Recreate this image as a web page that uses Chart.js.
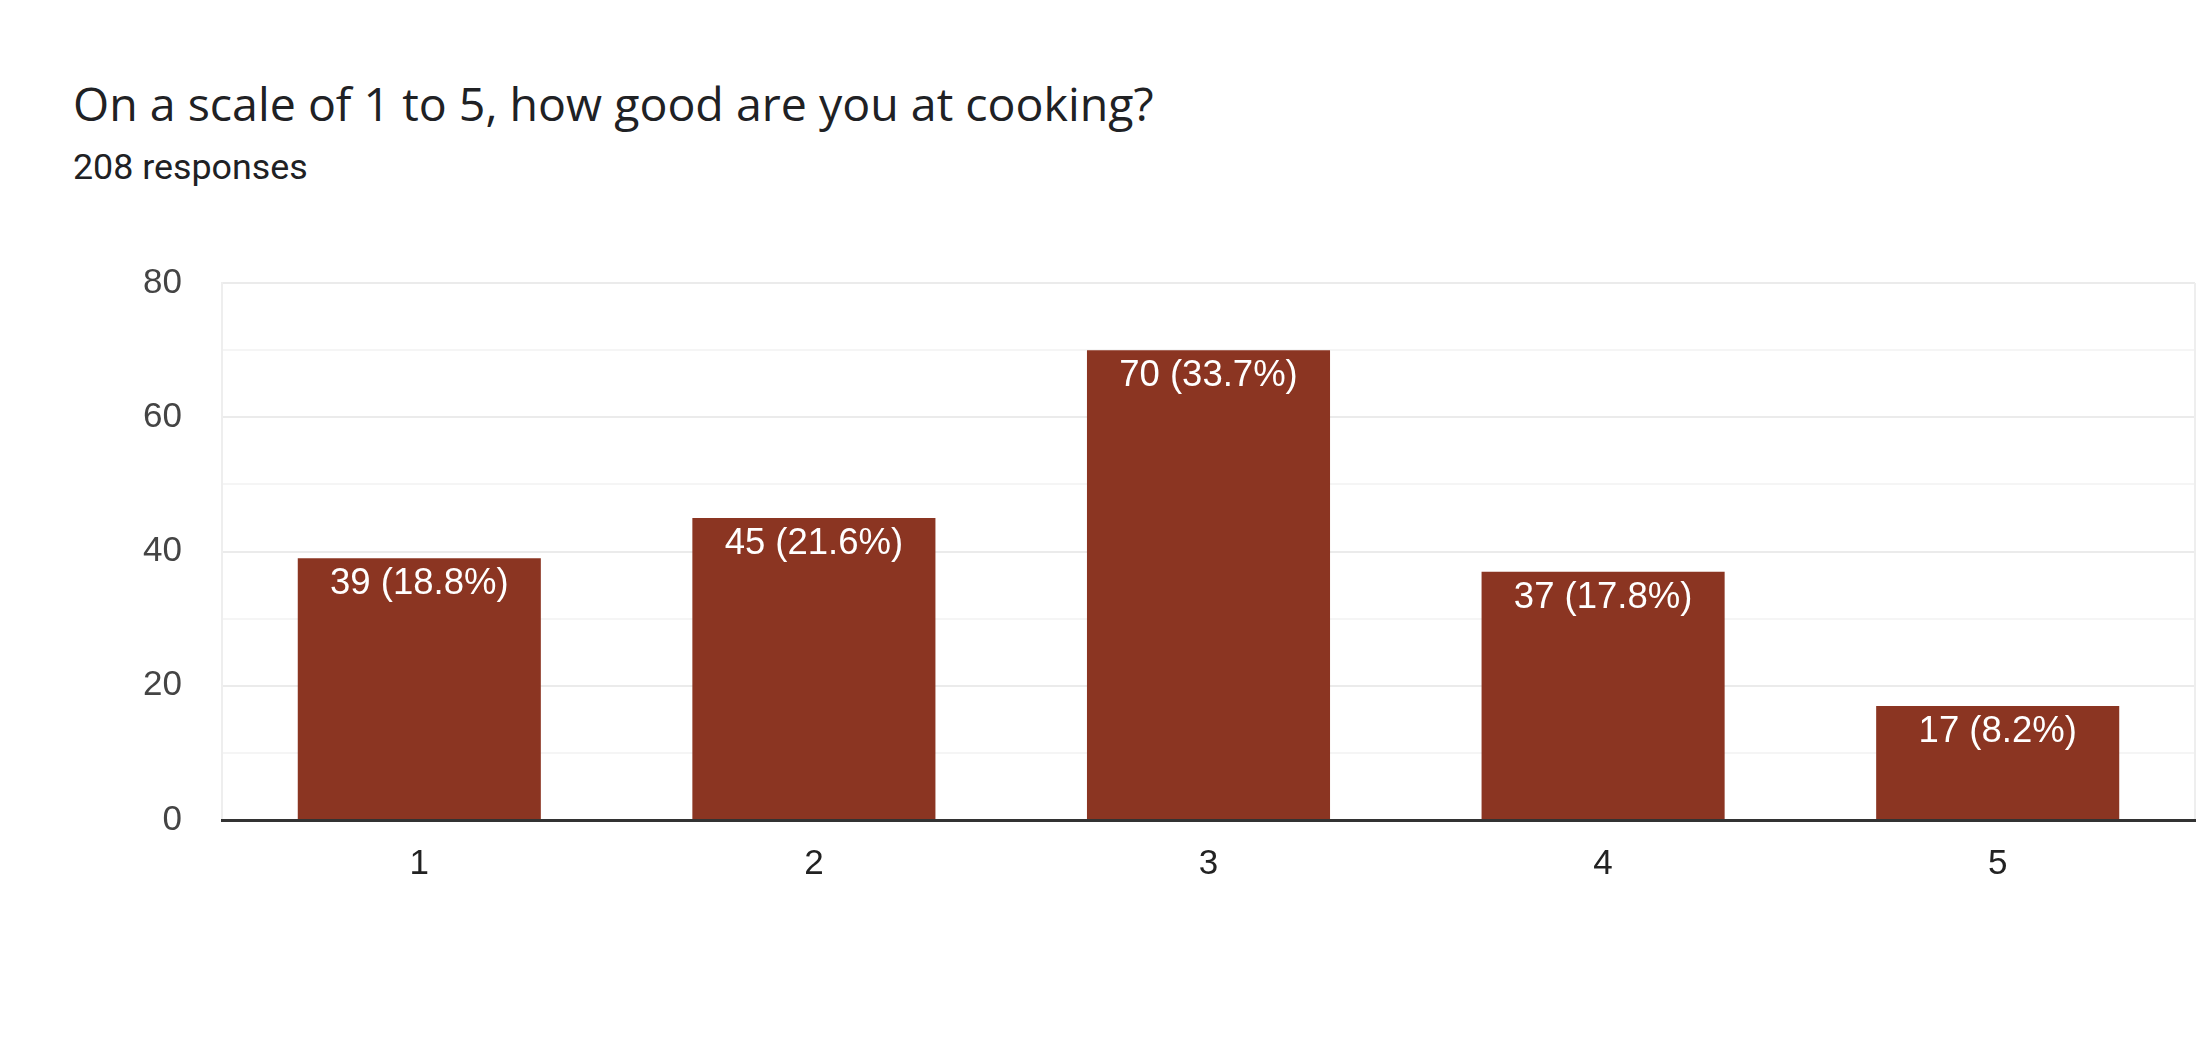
<!DOCTYPE html>
<html>
<head>
<meta charset="utf-8">
<script src="https://cdn.jsdelivr.net/npm/chart.js@4"></script>
<style>
  html, body { margin: 0; padding: 0; background: #fff; }
  body { width: 2196px; height: 1044px; position: relative; overflow: hidden; }
  #title { position: absolute; left: 73px; top: 80px; font-family: "Open Sans", sans-serif; font-size: 46.5px; line-height: 1; color: #202124; white-space: nowrap; }
  #subtitle { position: absolute; left: 73px; top: 150px; font-family: Roboto, sans-serif; font-size: 35.8px; line-height: 1; color: #202124; white-space: nowrap; }
  #wrap { position: absolute; left: 0; top: 0; width: 2196px; height: 1044px; }
</style>
</head>
<body>
<div id="title">On a scale of 1 to 5, how good are you at cooking?</div>
<div id="subtitle">208 responses</div>
<div id="wrap"><canvas id="c" width="2196" height="1044"></canvas></div>
<script>
const categories = ["1", "2", "3", "4", "5"];
const counts = [39, 45, 70, 37, 17];
const totalResponses = 208;
const yTickLabels = ["0", "20", "40", "60", "80"];

const barLabels = {
  id: 'barLabels',
  afterDatasetsDraw(chart) {
    const ctx = chart.ctx;
    const meta = chart.getDatasetMeta(0);
    ctx.save();
    ctx.fillStyle = '#ffffff';
    ctx.font = '36.5px "Liberation Sans", Arial, sans-serif';
    ctx.textAlign = 'center';
    ctx.textBaseline = 'alphabetic';
    meta.data.forEach((bar, i) => {
      const v = counts[i];
      const pct = (v / totalResponses * 100).toFixed(1);
      ctx.fillText(v + ' (' + pct + '%)', bar.x, bar.y + 36);
    });
    ctx.restore();
  }
};

const rightEdge = {
  id: 'rightEdge',
  beforeDatasetsDraw(chart) {
    const a = chart.chartArea;
    const ctx = chart.ctx;
    ctx.save();
    ctx.strokeStyle = '#eeeeee';
    ctx.lineWidth = 2;
    ctx.beginPath();
    ctx.moveTo(a.right, a.top);
    ctx.lineTo(a.right, a.bottom);
    ctx.stroke();
    ctx.restore();
  }
};

new Chart(document.getElementById('c'), {
  type: 'bar',
  data: {
    labels: categories,
    datasets: [{
      data: counts,
      backgroundColor: '#8b3522',
      borderWidth: 0,
      categoryPercentage: 1.0,
      barPercentage: 0.616
    }]
  },
  options: {
    responsive: false,
    animation: false,
    events: [],
    layout: { padding: { top: 283, right: 1, bottom: 124, left: 0 } },
    plugins: { legend: { display: false }, tooltip: { enabled: false }, title: { display: false } },
    scales: {
      x: {
        afterFit(scale) { scale.height = 100; },
        grid: { display: false, drawTicks: false },
        border: { display: true, color: '#333333', width: 3, z: 1 },
        ticks: { color: '#222222', padding: 23, font: { family: '"Liberation Sans", Arial, sans-serif', size: 35 } }
      },
      y: {
        min: 0,
        max: 80,
        afterFit(scale) { scale.width = 222; },
        grid: {
          drawTicks: false,
          lineWidth: 2,
          color: (ctx) => (ctx.tick && ctx.tick.value % 20 === 0) ? '#ebebeb' : '#f5f5f5'
        },
        border: { display: true, color: '#eeeeee', width: 2 },
        ticks: {
          stepSize: 10,
          padding: 40,
          color: '#444444',
          font: { family: '"Liberation Sans", Arial, sans-serif', size: 35 },
          callback: (value) => yTickLabels.includes(String(value)) ? String(value) : ''
        }
      }
    }
  },
  plugins: [barLabels, rightEdge]
});
</script>
</body>
</html>
